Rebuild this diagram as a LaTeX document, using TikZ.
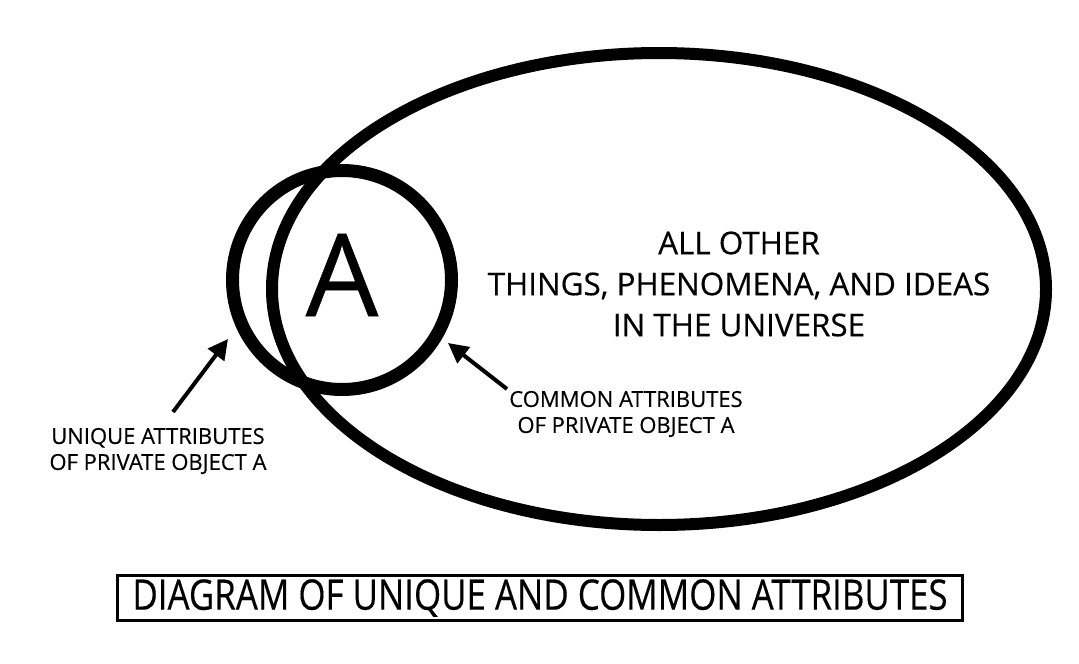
\documentclass[tikz,border=0pt]{standalone}
\usepackage{fontspec}
\setmainfont{Open Sans}[FakeBold=0.35]
\usetikzlibrary{arrows.meta}
\begin{document}
\begin{tikzpicture}[x=1pt,y=-1pt,
  every node/.style={inner sep=0pt,align=center},
  bigtext/.style={font=\fontsize{31.4}{41}\selectfont},
  lbl/.style={font=\fontsize{22}{26}\selectfont},
  ptr/.style={line width=4pt,-{Triangle[length=20pt,width=20pt]}}]
\useasboundingbox (0,0) rectangle (1079,664);
% the universe and object A
\draw[line width=12pt] (659,289) ellipse [x radius=387,y radius=236];
\draw[line width=13pt] (342,280) circle [radius=109.5];
\node (a) at (342,275) {\fontsize{115}{115}\selectfont A};
\node[bigtext] (other) at (739,284) {ALL OTHER\\THINGS, PHENOMENA, AND IDEAS\\IN THE UNIVERSE};
% labels
\node[lbl] (unique) at (158,451) {UNIQUE ATTRIBUTES\\OF PRIVATE OBJECT A};
\node[lbl] (common) at (626,414) {COMMON ATTRIBUTES\\OF PRIVATE OBJECT A};
\coordinate (utail) at (173,412);
\coordinate (utip) at (228,339);
\coordinate (ctail) at (507,389);
\coordinate (ctip) at (448,343);
\draw[ptr] (utail) -- (utip);
\draw[ptr] (ctail) -- (ctip);
% title
\node[draw,line width=3pt,minimum width=845pt,minimum height=45pt,
  font=\fontsize{42}{42}\selectfont] (title) at (540,598) {\scalebox{0.83}[1]{DIAGRAM OF UNIQUE AND COMMON ATTRIBUTES}};
\end{tikzpicture}
\end{document}
